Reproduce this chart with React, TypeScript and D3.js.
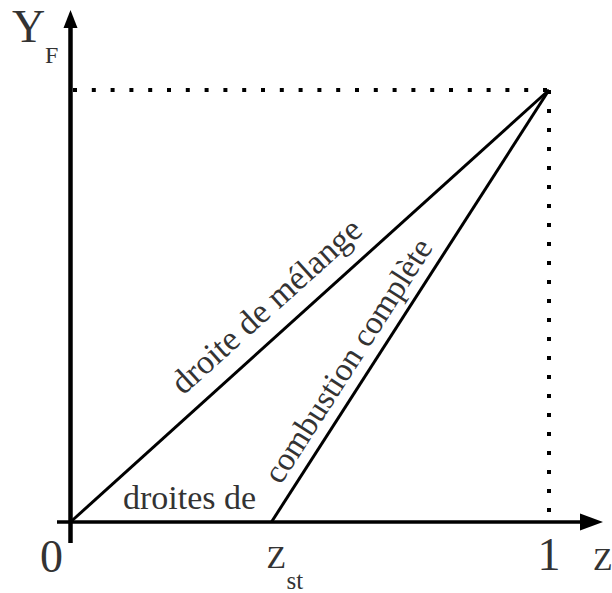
import React from "react";
import * as d3 from "d3";

// key points of the diagram, in (Z, Y_F) units
const origin = [0, 0];
const zst = 0.42;
const corner = [1, 1];
const axisLabels = { y: "Y", ySub: "F", x: "Z" };
const tickLabels = ["0", "1"];
const lineLabels = ["droite de mélange", "combustion complète"];
const bottomLabel = "droites de";

const W = 612;
const H = 593;
const ink = "#333";
const font = "'Liberation Serif', 'Times New Roman', serif";

export default function App() {
  const x = d3.scaleLinear().domain([0, 1]).range([70.5, 549]);
  const y = d3.scaleLinear().domain([0, 1]).range([522, 90]);

  const line = d3
    .line<number[]>()
    .x((d) => x(d[0]))
    .y((d) => y(d[1]));

  const mixing = [origin, corner];
  const burning = [[zst, 0], corner];

  // label sat along a segment, pushed off it to the upper left
  const along = (seg: number[][], t: number, off: number) => {
    const x0 = x(seg[0][0]), y0 = y(seg[0][1]);
    const x1 = x(seg[1][0]), y1 = y(seg[1][1]);
    const dx = x1 - x0, dy = y1 - y0;
    const len = Math.hypot(dx, dy);
    const px = x0 + dx * t + (dy / len) * off;
    const py = y0 + dy * t - (dx / len) * off;
    const ang = (Math.atan2(dy, dx) * 180) / Math.PI;
    return `translate(${px},${py}) rotate(${ang})`;
  };

  return (
    <svg width={W} height={H} style={{ position: "absolute", left: 0, top: 0 }}>
      <rect width={W} height={H} fill="#fff" />

      {/* dotted guides to (1, Y_F) */}
      <line x1={73} y1={y(1)} x2={x(1)} y2={y(1)} stroke="#000" strokeWidth={4} strokeDasharray="4 14.8" />
      <line x1={x(1)} y1={y(1)} x2={x(1)} y2={y(0) - 6} stroke="#000" strokeWidth={4} strokeDasharray="4 15" />

      {/* axes */}
      <line x1={x(0)} y1={y(0) + 21} x2={x(0)} y2={26} stroke="#000" strokeWidth={4.5} />
      <path d={`M${x(0)},10 L${x(0) - 7},28 L${x(0) + 7},28 Z`} fill="#000" />
      <line x1={57} y1={y(0)} x2={582} y2={y(0)} stroke="#000" strokeWidth={3.5} />
      <path d={`M603,${y(0)} L580,${y(0) - 8.5} L580,${y(0) + 8.5} Z`} fill="#000" />

      {/* straight lines */}
      <path d={line(mixing) ?? ""} stroke="#000" strokeWidth={3} fill="none" />
      <path d={line(burning) ?? ""} stroke="#000" strokeWidth={3} fill="none" />

      <g fontFamily={font} fill={ink}>
        <text x={12} y={42} fontSize={46}>{axisLabels.y}</text>
        <text x={45} y={63} fontSize={24}>{axisLabels.ySub}</text>

        <text x={51.5} y={572} fontSize={46} textAnchor="middle">{tickLabels[0]}</text>
        <text x={x(1)} y={570} fontSize={46} textAnchor="middle">{tickLabels[1]}</text>

        <text x={x(zst) - 5} y={568} fontSize={32}>{axisLabels.x}</text>
        <text x={x(zst) + 15} y={589} fontSize={25}>st</text>
        <text x={593} y={570} fontSize={32}>{axisLabels.x}</text>

        <text x={123} y={509} fontSize={34}>{bottomLabel}</text>

        <text transform={along(mixing, 0.45, 18)} fontSize={34} textAnchor="middle">
          {lineLabels[0]}
        </text>
        <text transform={along(burning, 0.345, 12)} fontSize={33} textAnchor="middle">
          {lineLabels[1]}
        </text>
      </g>
    </svg>
  );
}
